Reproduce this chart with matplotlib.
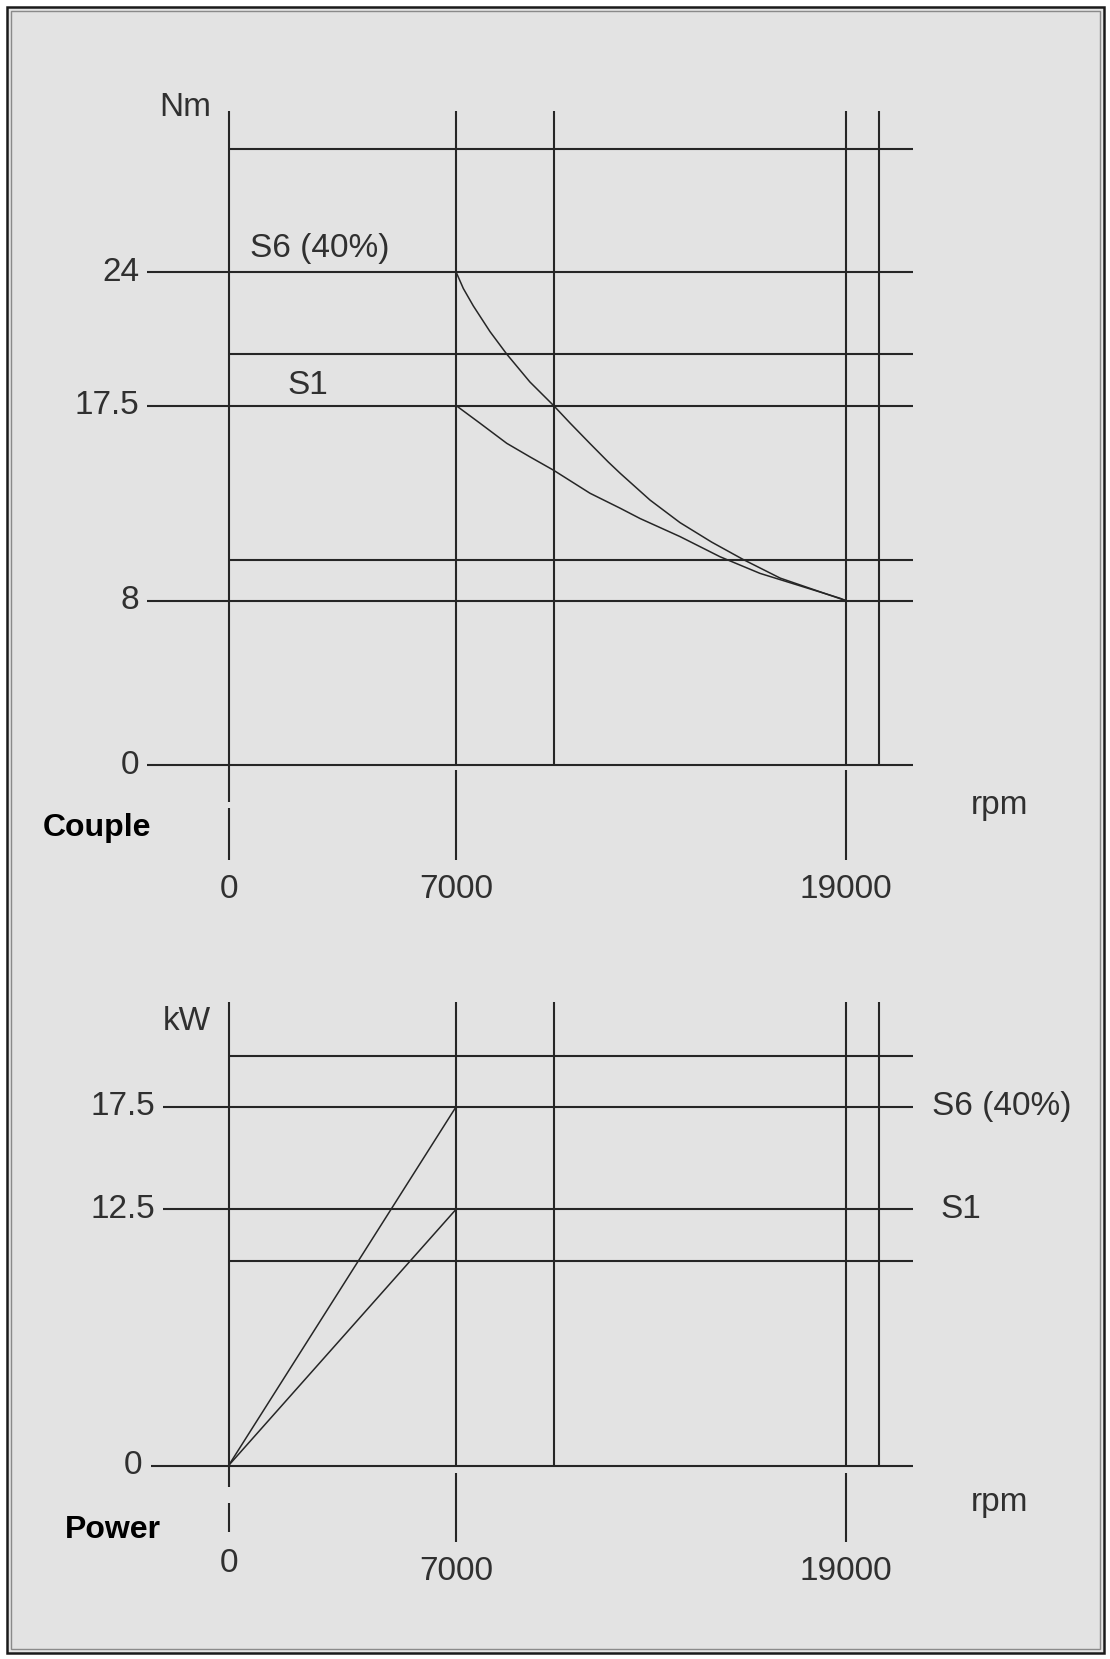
import matplotlib.pyplot as plt
from matplotlib.patches import Rectangle

# torque chart (Nm over rpm)
torque_ticks = [0, 8, 17.5, 24]
torque_grid = [10, 20, 30]
rpm_ticks = [0, 7000, 19000]
rpm_grid = [10000, 20000]

s6_torque_rpm = [7000, 7222, 7530, 8043, 8560, 9270, 10000, 10505, 11120, 11683, 12050,
                 12966, 13890, 14865, 15840, 16970, 18810, 19000]
s6_torque_nm = [24, 23.2, 22.35, 21.1, 20.0, 18.65, 17.5, 16.65, 15.65, 14.75, 14.2,
                12.9, 11.8, 10.85, 10.0, 9.1, 8.1, 8]
s1_torque_rpm = [7000, 7735, 8560, 9274, 10000, 11120, 12050, 12660, 13890, 15120, 16350, 18810, 19000]
s1_torque_nm = [17.5, 16.64, 15.66, 15.0, 14.35, 13.23, 12.5, 12.0, 11.12, 10.14, 9.33, 8.12, 8]

# power chart (kW over rpm)
power_ticks = [0, 12.5, 17.5]
power_grid = [10, 20]
power_rpm = [0, 7000]
s6_power_kw = [0, 17.5]
s1_power_kw = [0, 12.5]

W, H = 1110, 1659
LINE = "#262626"
TXT = "#303030"
BG = "#e3e3e3"
thin = dict(family="Liberation Sans", fontsize=24, color=TXT)
bold = dict(family="Liberation Sans", fontsize=23, color="black", fontweight="bold")

fig = plt.figure(figsize=(W / 100, H / 100), dpi=100)
fig.patch.set_facecolor("white")

# double frame, kept behind the axes
fig.patches.append(Rectangle((6.5 / W, 6.5 / H), 1 - 13 / W, 1 - 13 / H, transform=fig.transFigure,
                             facecolor=BG, edgecolor="#1a1a1a", lw=1.8, zorder=-10))
fig.patches.append(Rectangle((10.5 / W, 10.5 / H), 1 - 21 / W, 1 - 21 / H, transform=fig.transFigure,
                             facecolor="none", edgecolor="#8a8a8a", lw=1.0, zorder=-10))

# pixel mapping: x px = 228.6 + 0.0325*rpm, same for both charts
xpx = 0.0325
x0 = 228.6
xlim = (-x0 / xpx, (W - x0) / xpx)
xright = (913 - x0) / xpx

top_h = 930
ax1 = fig.add_axes([0, 1 - top_h / H, 1, top_h / H], zorder=2)
ax2 = fig.add_axes([0, 0, 1, (H - top_h) / H], zorder=2)
y1px, y1_0 = 20.54, 765
y2px, y2_0 = 20.5, 1465.5
ax1.set_xlim(*xlim)
ax1.set_ylim((y1_0 - top_h) / y1px, y1_0 / y1px)
ax2.set_xlim(*xlim)
ax2.set_ylim((y2_0 - H) / y2px, (y2_0 - top_h) / y2px)
for ax in (ax1, ax2):
    ax.axis("off")
    ax.patch.set_alpha(0)

lw_grid = 1.5
lw_curve = 1.1

# ---- torque chart ----
ax = ax1
top = (y1_0 - 111) / y1px
low = (y1_0 - 860) / y1px
ax.hlines(torque_ticks, (147 - x0) / xpx, xright, color=LINE, lw=lw_grid)
ax.hlines(torque_grid, 0, xright, color=LINE, lw=lw_grid)
for r in rpm_ticks:
    if r == 0:
        ax.vlines(r, (y1_0 - 802) / y1px, top, color=LINE, lw=lw_grid)
        ax.vlines(r, low, (y1_0 - 808) / y1px, color=LINE, lw=lw_grid)
    else:
        ax.vlines(r, 0, top, color=LINE, lw=lw_grid)
        ax.vlines(r, low, -0.25, color=LINE, lw=lw_grid)
ax.vlines(rpm_grid, 0, top, color=LINE, lw=lw_grid)
ax.plot(s6_torque_rpm, s6_torque_nm, color=LINE, lw=lw_curve)
ax.plot(s1_torque_rpm, s1_torque_nm, color=LINE, lw=lw_curve)

lab_x = (139 - x0) / xpx
for v in torque_ticks:
    ax.text(lab_x, v, f"{v:g}", ha="right", va="center", **thin)
for r in rpm_ticks:
    ax.text(r, (y1_0 - 889) / y1px, f"{r}", ha="center", va="center", **thin)
ax.text((185 - x0) / xpx, (y1_0 - 108) / y1px, "Nm", ha="center", va="center", **thin)
ax.text((1000 - x0) / xpx, (y1_0 - 805) / y1px, "rpm", ha="center", va="center", **thin)
ax.text((250 - x0) / xpx, (y1_0 - 248) / y1px, "S6 (40%)", ha="left", va="center", **thin)
ax.text((287 - x0) / xpx, (y1_0 - 386) / y1px, "S1", ha="left", va="center", **thin)
ax.text((43 - x0) / xpx, (y1_0 - 828) / y1px, "Couple", ha="left", va="center", **bold)

# ---- power chart ----
ax = ax2
top = (y2_0 - 1002) / y2px
low = (y2_0 - 1542) / y2px
for v in power_ticks:
    start = 151 if v == 0 else 163
    ax.hlines(v, (start - x0) / xpx, xright, color=LINE, lw=lw_grid)
ax.hlines(power_grid, 0, xright, color=LINE, lw=lw_grid)
for r in rpm_ticks:
    if r == 0:
        ax.vlines(r, (y2_0 - 1487) / y2px, top, color=LINE, lw=lw_grid)
        ax.vlines(r, (y2_0 - 1532) / y2px, (y2_0 - 1503) / y2px, color=LINE, lw=lw_grid)
    else:
        ax.vlines(r, 0, top, color=LINE, lw=lw_grid)
        ax.vlines(r, low, -0.35, color=LINE, lw=lw_grid)
ax.vlines(rpm_grid, 0, top, color=LINE, lw=lw_grid)
ax.plot(power_rpm, s6_power_kw, color=LINE, lw=lw_curve)
ax.plot(power_rpm, s1_power_kw, color=LINE, lw=lw_curve)

for v in power_ticks:
    right = 142 if v == 0 else 155
    ax.text((right - x0) / xpx, v, f"{v:g}", ha="right", va="center", **thin)
ax.text(0, (y2_0 - 1564) / y2px, "0", ha="center", va="center", **thin)
for r in rpm_ticks[1:]:
    ax.text(r, (y2_0 - 1571) / y2px, f"{r}", ha="center", va="center", **thin)
ax.text((187 - x0) / xpx, (y2_0 - 1021) / y2px, "kW", ha="center", va="center", **thin)
ax.text((1000 - x0) / xpx, (y2_0 - 1502) / y2px, "rpm", ha="center", va="center", **thin)
ax.text((932 - x0) / xpx, s6_power_kw[-1], "S6 (40%)", ha="left", va="center", **thin)
ax.text((940 - x0) / xpx, s1_power_kw[-1], "S1", ha="left", va="center", **thin)
ax.text((65 - x0) / xpx, (y2_0 - 1530) / y2px, "Power", ha="left", va="center", **bold)

fig.savefig("out.png", dpi=100)
